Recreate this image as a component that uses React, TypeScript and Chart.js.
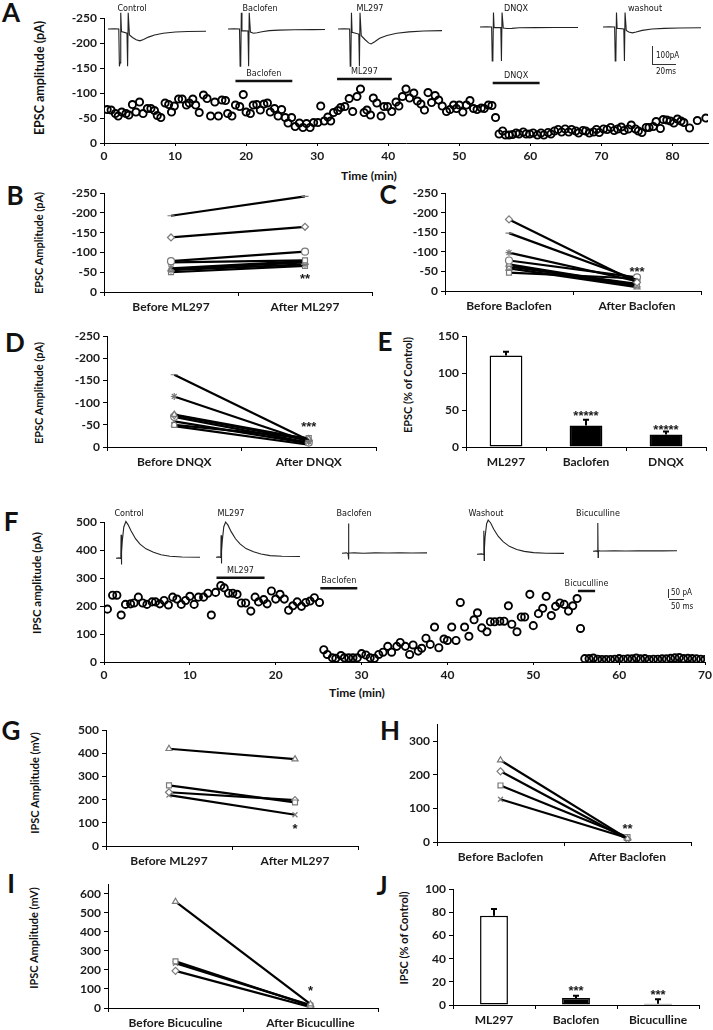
import React, { useEffect, useRef } from 'react';
import { Chart, registerables } from 'chart.js';

Chart.register(...registerables);

const FONT = "Lato, 'Open Sans', 'DejaVu Sans', sans-serif";
const NARROW = "'Liberation Sans Narrow', 'DejaVu Sans Condensed', Lato, sans-serif";
const STAR_FONT = "'Liberation Sans', Arial, sans-serif";
Chart.defaults.font.family = FONT;
Chart.defaults.color = '#1a1a1a';

// ---------------- Panel A: EPSC time course ----------------
const A_TIME = [
  0.45, 1.0, 1.6, 2.0, 2.5, 3.1, 3.5, 4.0, 4.5, 5.0,
  5.5, 6.1, 6.6, 7.1, 7.5, 8.0, 8.6, 9.1, 9.5, 9.9,
  10.5, 11.0, 11.6, 12.0, 12.5, 12.9, 13.4, 14.0, 14.5, 15.0,
  15.6, 16.1, 16.6, 17.1, 17.4, 18.0, 18.5, 19.1, 19.6, 20.0,
  20.6, 21.0, 21.5, 22.0, 22.5, 23.0, 23.4, 24.0, 24.5, 25.0,
  25.5, 25.9, 26.4, 26.9, 27.5, 28.0, 28.5, 29.0, 29.5, 30.1,
  30.5, 31.0, 31.5, 31.9, 32.3, 32.9, 33.3, 33.9, 34.5, 35.0,
  35.6, 36.1, 36.6, 37.0, 37.5, 37.9, 38.4, 39.0, 39.4, 39.9,
  40.5, 41.1, 41.5, 42.0, 42.5, 43.0, 43.6, 44.1, 44.6, 45.1,
  45.6, 46.1, 46.6, 47.1, 47.6, 48.2, 48.7, 49.2, 49.6, 50.0,
  50.5, 51.0, 51.5, 52.0, 52.5, 53.1, 53.5, 54.1, 54.6, 55.1,
  55.6, 56.1, 56.5, 57.0, 57.5, 58.0, 58.4, 59.0, 59.4, 59.9,
  60.4, 61.0, 61.5, 61.9, 62.5, 62.9, 63.4, 63.9, 64.4, 64.9,
  65.4, 65.8, 66.4, 66.8, 67.4, 67.8, 68.3, 68.9, 69.3, 69.7,
  70.3, 70.8, 71.3, 71.8, 72.3, 72.8, 73.2, 73.8, 74.2, 74.8,
  75.2, 75.7, 76.3, 76.7, 77.3, 77.7, 78.3, 78.7, 79.2, 79.7,
  80.2, 80.7, 81.2, 81.6, 82.4, 83.5, 84.7,
];
const A_EPSC = [
  -67, -66, -59, -54, -62, -59, -56, -77, -62, -82,
  -59, -69, -69, -65, -55, -51, -80, -77, -62, -74,
  -88, -88, -76, -80, -88, -76, -61, -96, -89, -54,
  -82, -54, -86, -85, -59, -54, -76, -73, -97, -62,
  -59, -76, -77, -66, -78, -80, -62, -69, -54, -67,
  -51, -40, -51, -33, -40, -31, -39, -31, -41, -41,
  -74, -44, -52, -44, -61, -65, -71, -73, -89, -63,
  -93, -108, -61, -66, -56, -90, -80, -54, -73, -73,
  -63, -82, -74, -93, -108, -90, -100, -84, -78, -66,
  -101, -81, -95, -86, -74, -63, -67, -76, -69, -76,
  -62, -76, -85, -69, -67, -70, -69, -76, -75, -51,
  -18, -24, -16, -16, -17, -20, -18, -22, -18, -18,
  -20, -16, -20, -16, -21, -18, -24, -27, -22, -28,
  -22, -27, -24, -20, -25, -24, -20, -22, -27, -21,
  -28, -27, -31, -25, -28, -32, -25, -28, -36, -28,
  -24, -21, -31, -31, -33, -43, -29, -47, -46, -44,
  -40, -48, -44, -41, -30, -45, -50,
];
const A_X_TICKS = [0, 10, 20, 30, 40, 50, 60, 70, 80];
const EPSC_Y_TICKS = [-250, -200, -150, -100, -50, 0];
const A_DRUG_NAMES = ['Baclofen', 'ML297', 'DNQX'];
const A_DRUG_START = [18.5, 32.8, 54.7];
const A_DRUG_END = [26.5, 40.5, 61.3];
const A_DRUG_LEVEL = [-124, -128, -120];

// EPSC example traces (ms, pA)
const TA_CTRL_T = [0, 5, 8.8, 9.3, 9.8, 10.4, 11, 15.5, 16, 16.5, 17.5, 20, 23, 26, 29, 33, 38, 45, 55, 65, 80];
const TA_CTRL_V = [0, 1, 0, -220, -200, 95, -15, -25, -220, 95, -35, -50, -63, -70, -62, -48, -35, -25, -18, -15, -13];
const TA_BAC_T = [0, 5, 9.5, 10, 10.5, 11, 11.5, 16.5, 17, 17.5, 18.5, 21, 24, 28, 34, 42, 55, 70, 80];
const TA_BAC_V = [0, 1, 0, -220, -200, 95, -10, -12, -220, 95, -18, -25, -22, -16, -10, -7, -5, -4, -3];
const TA_ML_T = [0, 5, 9.5, 10, 10.5, 11, 11.5, 17, 17.5, 18, 19, 22, 25, 27, 30, 34, 40, 48, 58, 70, 85];
const TA_ML_V = [0, 1, 0, -220, -200, 95, -20, -30, -220, 95, -40, -62, -82, -88, -75, -55, -38, -25, -17, -12, -10];
const TA_DNQX_T = [0, 5, 9.5, 10, 10.5, 11, 11.5, 17, 17.5, 18, 19, 22, 26, 32, 45, 60, 80];
const TA_DNQX_V = [0, 1, 0, -200, -190, 85, -3, -4, -200, 85, -6, -9, -8, -5, -4, -3, -3];
const TA_WASH_T = [0, 5, 9.5, 10, 10.5, 11, 11.5, 17, 17.5, 18, 19, 21, 24, 27, 32, 40, 50, 62, 80];
const TA_WASH_V = [0, 1, 0, -200, -190, 85, -8, -12, -200, 85, -20, -30, -35, -30, -20, -12, -8, -6, -5];

// ---------------- Panels B, C, D ----------------
const B_CATS = ['Before ML297', 'After ML297'];
const B_BEFORE = [-193, -138, -78, -75, -60, -58, -55, -50];
const B_AFTER = [-242, -165, -102, -80, -78, -75, -70, -66];
const B_SIG = '**';
const B_SIG_AT = -40;

const C_CATS = ['Before Baclofen', 'After Baclofen'];
const C_BEFORE = [-183, -148, -98, -78, -68, -65, -62, -58, -47];
const C_AFTER = [-22, -28, -25, -35, -15, -12, -18, -10, -32];
const C_SIG = '***';
const C_SIG_AT = -54;

const D_CATS = ['Before DNQX', 'After DNQX'];
const D_BEFORE = [-163, -114, -73, -72, -68, -58, -50, -47];
const D_AFTER = [-15, -12, -18, -15, -10, -8, -20, -5];
const D_SIG = '***';
const D_SIG_AT = -50;

// ---------------- Panel E ----------------
const E_CATS = ['ML297', 'Baclofen', 'DNQX'];
const E_MEAN = [124, 29, 17];
const E_SEM = [5, 8, 4];
const E_SIG = ['', '*****', '*****'];
const E_SIG_AT = [0, 45, 27];
const E_Y_TICKS = [0, 50, 100, 150];

// ---------------- Panel F: IPSC time course ----------------
const F_TIME = [
  0.4, 1.0, 1.5, 2.0, 2.5, 3.1, 3.5, 4.0, 4.5, 5.0,
  5.6, 6.0, 6.5, 7.0, 7.5, 8.0, 8.5, 9.0, 9.5, 10.0,
  10.5, 11.0, 11.6, 12.1, 12.5, 13.0, 13.6, 14.0, 14.5, 15.0,
  15.5, 16.0, 16.5, 17.1, 17.6, 18.0, 18.6, 19.0, 19.5, 20.0,
  20.5, 21.0, 21.5, 22.0, 22.5, 23.0, 23.5, 24.0, 24.5, 25.1,
  25.6, 26.0, 26.6, 27.0, 27.6, 28.0, 28.5, 29.0, 29.5, 30.0,
  30.5, 31.0, 31.5, 32.0, 32.5, 33.05, 33.5, 34.1, 34.5, 35.1,
  35.6, 36.0, 36.6, 37.0, 37.5, 38.0, 38.5, 39.0, 39.6, 40.0,
  40.5, 41.0, 41.5, 42.0, 42.5, 43.1, 43.5, 44.0, 44.6, 45.0,
  45.5, 46.1, 46.6, 47.1, 47.5, 48.1, 48.6, 49.0, 49.6, 50.0,
  50.6, 51.1, 51.5, 52.1, 52.6, 53.1, 53.6, 54.1, 54.6, 55.1,
  55.5, 56.0, 56.5, 57.0, 57.5, 58.0, 58.5, 59.0, 59.5, 60.0,
  60.5, 61.0, 61.5, 62.0, 62.5, 63.0, 63.5, 64.0, 64.5, 65.0,
  65.5, 66.0, 66.5, 67.0, 67.5, 68.0, 68.5, 69.0, 69.5, 70.0,
];
const F_IPSC = [
  189, 239, 239, 168, 206, 208, 211, 232, 211, 206,
  215, 215, 208, 220, 204, 232, 225, 206, 220, 235,
  206, 232, 232, 246, 168, 249, 273, 265, 246, 246,
  242, 211, 211, 182, 232, 215, 223, 208, 254, 225,
  242, 225, 185, 201, 215, 199, 213, 218, 230, 213,
  44, 27, 15, 13, 23, 15, 15, 15, 15, 30,
  25, 15, 13, 27, 35, 56, 35, 56, 70, 56,
  27, 61, 39, 49, 85, 63, 125, 51, 82, 77,
  125, 77, 213, 125, 92, 151, 176, 122, 108, 144,
  144, 146, 146, 201, 135, 108, 161, 161, 242, 130,
  173, 192, 235, 166, 199, 211, 206, 182, 201, 227,
  120, 12, 12, 14, 10, 9, 9, 9, 10, 12,
  10, 11, 11, 14, 11, 12, 9, 10, 10, 11,
  11, 13, 15, 16, 12, 13, 12, 11, 10, 9,
];
const F_X_TICKS = [0, 10, 20, 30, 40, 50, 60, 70];
const F_Y_TICKS = [0, 100, 200, 300, 400, 500];
const F_DRUG_NAMES = ['ML297', 'Baclofen', 'Bicuculline'];
const F_DRUG_START = [13.1, 25.2, 55.2];
const F_DRUG_END = [18.7, 29.5, 57.2];
const F_DRUG_LEVEL = [301, 264, 254];

// IPSC example traces (ms, pA)
const TF_CTRL_T = [0, 10, 16, 17, 18, 19, 21, 26, 33, 40, 50, 65, 80, 100, 125, 150, 180, 220, 280];
const TF_CTRL_V = [0, 2, -2, 150, -40, 40, 110, 200, 235, 215, 175, 125, 90, 60, 38, 22, 12, 8, 6];
const TF_ML_T = [0, 10, 16, 17, 18, 19, 21, 26, 32, 40, 50, 65, 80, 100, 125, 150, 180, 220, 280];
const TF_ML_V = [0, 2, -2, 140, -40, 40, 105, 195, 225, 205, 165, 118, 85, 55, 35, 20, 10, 6, 4];
const TF_BAC_T = [0, 15, 20, 21, 22, 23, 27, 40, 70, 110, 150, 190, 230, 280];
const TF_BAC_V = [0, 2, -3, 190, -40, 3, 1, 2, 0, 2, 1, 2, 1, 2];
const TF_WASH_T = [0, 15, 21, 22, 23, 24, 26, 31, 36, 44, 54, 68, 84, 104, 128, 152, 182, 222, 280];
const TF_WASH_V = [0, 2, -2, 150, -40, 40, 110, 195, 218, 200, 160, 115, 80, 50, 30, 18, 10, 6, 5];
const TF_BIC_T = [0, 12, 15, 16, 17, 18, 22, 40, 70, 110, 150, 190, 230, 280];
const TF_BIC_V = [0, 2, -3, 180, -40, 3, 2, 1, 2, 1, 2, 3, 2, 3];

// ---------------- Panels G, H, I ----------------
const G_CATS = ['Before ML297', 'After ML297'];
const G_BEFORE = [420, 262, 232, 220];
const G_AFTER = [375, 188, 198, 135];
const G_SIG = '*';
const G_SIG_AT = 86;
const G_Y_TICKS = [0, 100, 200, 300, 400, 500];

const H_CATS = ['Before Baclofen', 'After Baclofen'];
const H_BEFORE = [243, 210, 168, 127];
const H_AFTER = [10, 8, 15, 12];
const H_SIG = '**';
const H_SIG_AT = 47;
const H_Y_TICKS = [0, 100, 200, 300];

const I_CATS = ['Before Bicuculine', 'After Bicuculline'];
const I_BEFORE = [558, 245, 235, 195];
const I_AFTER = [20, 12, 15, 5];
const I_SIG = '*';
const I_SIG_AT = 105;
const I_Y_TICKS = [0, 100, 200, 300, 400, 500, 600];

// ---------------- Panel J ----------------
const J_CATS = ['ML297', 'Baclofen', 'Bicuculline'];
const J_MEAN = [77, 6, 1];
const J_SEM = [6, 2, 4];
const J_SIG = ['', '***', '***'];
const J_SIG_AT = [0, 14, 11];
const J_Y_TICKS = [0, 20, 40, 60, 80, 100];

// ---------------- styles ----------------
const B_STYLES = ['line', 'rectRot', 'circle', 'rect', 'crossRot', 'triangle', 'star', 'rect'];
const C_STYLES = ['rectRot', 'line', 'star', 'circle', 'triangle', 'crossRot', 'rect', 'triangle', 'rect'];
const D_STYLES = ['line', 'star', 'triangle', 'rectRot', 'circle', 'crossRot', 'rect', 'line'];
const G_STYLES = ['triangle', 'rect', 'rectRot', 'crossRot'];
const H_STYLES = ['triangle', 'rectRot', 'rect', 'crossRot'];
const I_STYLES = ['triangle', 'rect', 'crossRot', 'rectRot'];

const tickFont = { family: FONT, size: 12, weight: 'bold' as const };
const axisGrid = { display: true, drawOnChartArea: false, drawTicks: true, tickLength: 4, color: '#000', tickColor: '#000', lineWidth: 1 };
const axisBorder = { display: true, color: '#000', width: 1 };

function fixedTicks(values: number[]) {
  return (s: any) => {
    s.ticks = values.map((v) => ({ value: v }));
  };
}

function sigPlugin(idx: number[], at: number[], texts: string[]) {
  return {
    id: 'sig',
    afterDatasetsDraw(chart: any) {
      const { ctx } = chart;
      const x = chart.scales.x;
      const y = chart.scales.y;
      ctx.save();
      ctx.font = `bold 13px ${STAR_FONT}`;
      ctx.fillStyle = '#1a1a1a';
      ctx.textAlign = 'center';
      ctx.textBaseline = 'middle';
      idx.forEach((i, k) => {
        if (!texts[k]) return;
        ctx.fillText(texts[k], x.getPixelForValue(i), y.getPixelForValue(at[k]) + 3);
      });
      ctx.restore();
    },
  };
}

function errPlugin(mean: number[], sem: number[]) {
  return {
    id: 'err',
    afterDatasetsDraw(chart: any) {
      const { ctx } = chart;
      const y = chart.scales.y;
      const meta = chart.getDatasetMeta(0);
      ctx.save();
      ctx.strokeStyle = '#000';
      ctx.lineWidth = 2;
      meta.data.forEach((bar: any, i: number) => {
        const y0 = y.getPixelForValue(mean[i]);
        const y1 = y.getPixelForValue(mean[i] + sem[i]);
        ctx.beginPath();
        ctx.moveTo(bar.x, y0);
        ctx.lineTo(bar.x, y1);
        ctx.moveTo(bar.x - 3, y1);
        ctx.lineTo(bar.x + 3, y1);
        ctx.stroke();
      });
      ctx.restore();
    },
  };
}

function drugPlugin(names: string[], starts: number[], ends: number[], levels: number[], gap: number) {
  return {
    id: 'drugs',
    afterDatasetsDraw(chart: any) {
      const { ctx } = chart;
      const x = chart.scales.x;
      const y = chart.scales.y;
      ctx.save();
      ctx.font = `9px ${NARROW}`;
      ctx.fillStyle = '#222';
      ctx.textAlign = 'center';
      ctx.textBaseline = 'bottom';
      names.forEach((n, i) => {
        const cx = (x.getPixelForValue(starts[i]) + x.getPixelForValue(ends[i])) / 2;
        ctx.fillText(n, cx, y.getPixelForValue(levels[i]) - gap);
      });
      ctx.restore();
    },
  };
}

type Rect = { left: number; top: number; right: number; bottom: number };
const PAD = [56, 10, 10, 30];

function PlotCanvas({ plot, build }: { plot: Rect; build: () => any }) {
  const ref = useRef<HTMLCanvasElement | null>(null);
  const [pl, pt, pr, pb] = PAD;
  const w = plot.right - plot.left + pl + pr;
  const h = plot.bottom - plot.top + pt + pb;
  useEffect(() => {
    const cfg = build();
    const o = cfg.options;
    o.responsive = false;
    o.animation = false;
    o.devicePixelRatio = 1;
    o.layout = { padding: { left: 0, top: pt, right: pr, bottom: 0 } };
    o.scales.x.afterFit = (s: any) => { s.height = pb; };
    o.scales.y.afterFit = (s: any) => { s.width = pl; };
    o.plugins = { ...(o.plugins || {}), legend: { display: false }, tooltip: { enabled: false } };
    const c = new Chart(ref.current as HTMLCanvasElement, cfg);
    return () => c.destroy();
  }, []);
  return (
    <canvas
      ref={ref}
      width={w}
      height={h}
      style={{ position: 'absolute', left: plot.left - pl, top: plot.top - pt, width: w, height: h }}
    />
  );
}

function Trace({ left, top, width, height, t, v, tMax, yMin, yMax }: any) {
  const ref = useRef<HTMLCanvasElement | null>(null);
  useEffect(() => {
    const c = new Chart(ref.current as HTMLCanvasElement, {
      type: 'line',
      data: {
        datasets: [{
          data: t.map((x: number, i: number) => ({ x, y: v[i] })),
          borderColor: '#222',
          borderWidth: 1.1,
          pointRadius: 0,
          tension: 0,
        }],
      },
      options: {
        responsive: false,
        animation: false,
        devicePixelRatio: 1,
        layout: { padding: 0 },
        scales: {
          x: { type: 'linear', display: false, min: 0, max: tMax },
          y: { display: false, min: yMin, max: yMax },
        },
        plugins: { legend: { display: false }, tooltip: { enabled: false } },
      },
    } as any);
    return () => c.destroy();
  }, []);
  return (
    <canvas ref={ref} width={width} height={height}
      style={{ position: 'absolute', left, top, width, height }} />
  );
}

function Txt({ x, y, children, size = 12, bold = false, font = FONT, rot = false, align = 'center' }: any) {
  const tx = align === 'left' ? '0' : align === 'right' ? '-100%' : '-50%';
  return (
    <div style={{
      position: 'absolute', left: x, top: y,
      transform: `translate(${tx}, -50%)${rot ? ' rotate(-90deg)' : ''}`,
      fontFamily: font, fontSize: size, fontWeight: bold ? 700 : 400,
      lineHeight: 1, whiteSpace: 'nowrap', color: '#111',
    }}>{children}</div>
  );
}

function Line({ x1, y1, x2, y2 }: any) {
  return <div style={{ position: 'absolute', left: Math.min(x1, x2), top: Math.min(y1, y2), width: Math.max(1, Math.abs(x2 - x1)), height: Math.max(1, Math.abs(y2 - y1)), background: '#333' }} />;
}

function timeCourse(time: number[], vals: number[], xMax: number, xTicks: number[], yMin: number, yMax: number, yTicks: number[], reverse: boolean,
  names: string[], starts: number[], ends: number[], levels: number[], gap: number) {
  const drugSets = names.map((n, i) => ({
    type: 'line',
    data: [{ x: starts[i], y: levels[i] }, { x: ends[i], y: levels[i] }],
    showLine: true,
    borderColor: '#111',
    borderWidth: 2.5,
    pointRadius: 0,
  }));
  return {
    type: 'scatter',
    data: {
      datasets: [
        {
          data: time.map((t, i) => ({ x: t, y: vals[i] })),
          pointStyle: 'circle',
          pointRadius: 3.6,
          pointBorderWidth: 1.9,
          borderColor: '#000',
          backgroundColor: 'rgba(255,255,255,0)',
        },
        ...drugSets,
      ],
    },
    options: {
      scales: {
        x: {
          type: 'linear', min: 0, max: xMax,
          grid: { ...axisGrid, tickLength: 3 }, border: axisBorder,
          ticks: { font: tickFont, padding: 3, maxRotation: 0, minRotation: 0 },
          afterBuildTicks: fixedTicks(xTicks),
        },
        y: {
          type: 'linear', min: yMin, max: yMax, reverse,
          grid: axisGrid, border: axisBorder,
          ticks: { font: tickFont, padding: 3 },
          afterBuildTicks: fixedTicks(yTicks),
        },
      },
    },
    plugins: [drugPlugin(names, starts, ends, levels, gap)],
  };
}

function paired(cats: string[], before: number[], after: number[], styles: string[], yMin: number, yMax: number, yTicks: number[], reverse: boolean, sig: string, sigAt: number) {
  return {
    type: 'line',
    data: {
      labels: cats,
      datasets: before.map((b, i) => ({
        data: [b, after[i]],
        borderColor: '#000',
        borderWidth: 2.2,
        pointStyle: styles[i % styles.length],
        pointRadius: 3.5,
        pointBorderColor: '#7a7a7a',
        pointBackgroundColor: '#fff',
        pointBorderWidth: 1.2,
      })),
    },
    options: {
      scales: {
        x: {
          type: 'category', offset: true,
          grid: { ...axisGrid, offset: true }, border: axisBorder,
          ticks: { font: tickFont, padding: 4, maxRotation: 0, minRotation: 0, autoSkip: false },
        },
        y: {
          min: yMin, max: yMax, reverse,
          grid: axisGrid, border: axisBorder,
          ticks: { font: tickFont, padding: 3 },
          afterBuildTicks: fixedTicks(yTicks),
        },
      },
    },
    plugins: [sigPlugin([1], [sigAt], [sig])],
  };
}

function bars(cats: string[], mean: number[], sem: number[], yMax: number, yTicks: number[], barPct: number, sig: string[], sigAt: number[]) {
  return {
    type: 'bar',
    data: {
      labels: cats,
      datasets: [{
        data: mean,
        backgroundColor: mean.map((_, i) => (i === 0 ? '#fff' : '#000')),
        borderColor: '#000',
        borderWidth: 1.5,
        borderSkipped: false,
        barPercentage: barPct,
        categoryPercentage: 1,
      }],
    },
    options: {
      scales: {
        x: {
          type: 'category', offset: true,
          grid: { ...axisGrid, offset: true }, border: axisBorder,
          ticks: { font: tickFont, padding: 4, maxRotation: 0, minRotation: 0, autoSkip: false },
        },
        y: {
          min: 0, max: yMax,
          grid: axisGrid, border: axisBorder,
          ticks: { font: tickFont, padding: 3 },
          afterBuildTicks: fixedTicks(yTicks),
        },
      },
    },
    plugins: [errPlugin(mean, sem), sigPlugin(cats.map((_, i) => i), sigAt, sig)],
  };
}

const A_PLOT = { left: 104, top: 18, right: 708, bottom: 143 };
const B_PLOT = { left: 104, top: 193, right: 372, bottom: 292 };
const C_PLOT = { left: 445, top: 193, right: 701, bottom: 291 };
const D_PLOT = { left: 107, top: 336, right: 376, bottom: 447 };
const E_PLOT = { left: 466, top: 336, right: 706, bottom: 447 };
const F_PLOT = { left: 104, top: 522, right: 705, bottom: 662 };
const G_PLOT = { left: 106, top: 730, right: 358, bottom: 846 };
const H_PLOT = { left: 437, top: 724, right: 691, bottom: 842 };
const I_PLOT = { left: 108, top: 884, right: 378, bottom: 1008 };
const J_PLOT = { left: 453, top: 889, right: 699, bottom: 1005 };

export default function App() {
  useEffect(() => {
    document.body.style.margin = '0';
  }, []);
  return (
    <div style={{ position: 'absolute', left: 0, top: 0, width: 713, height: 1030, background: '#fff', overflow: 'hidden' }}>
      {/* Panel letters */}
      <Txt x={11} y={12} size={26} bold>A</Txt>
      <Txt x={15} y={195} size={26} bold>B</Txt>
      <Txt x={388} y={194} size={26} bold>C</Txt>
      <Txt x={15} y={342} size={26} bold>D</Txt>
      <Txt x={385} y={341} size={26} bold>E</Txt>
      <Txt x={11} y={521} size={26} bold>F</Txt>
      <Txt x={11} y={730} size={26} bold>G</Txt>
      <Txt x={390} y={730} size={26} bold>H</Txt>
      <Txt x={11} y={883} size={26} bold>I</Txt>
      <Txt x={382} y={885} size={26} bold>J</Txt>

      {/* Axis titles */}
      <Txt x={40} y={78} size={12.5} bold rot>EPSC amplitude  (pA)</Txt>
      <Txt x={369} y={176} size={12} bold>Time (min)</Txt>
      <Txt x={38} y={243} size={11} bold rot>EPSC Amplitude  (pA)</Txt>
      <Txt x={38} y={393} size={11} bold rot>EPSC Amplitude (pA)</Txt>
      <Txt x={407} y={385} size={11} bold rot>EPSC (% of Control)</Txt>
      <Txt x={37} y={583} size={11.5} bold rot>IPSC amplitude  (pA)</Txt>
      <Txt x={357} y={693} size={12} bold>Time (min)</Txt>
      <Txt x={34} y={783} size={11} bold rot>IPSC Amplitude  (mV)</Txt>
      <Txt x={33} y={938} size={11} bold rot>IPSC Amplitude  (mV)</Txt>
      <Txt x={403} y={938} size={11} bold rot>IPSC (% of Control)</Txt>

      {/* Panel A */}
      <PlotCanvas plot={A_PLOT} build={() => timeCourse(A_TIME, A_EPSC, 85, A_X_TICKS, -250, 0, EPSC_Y_TICKS, true, A_DRUG_NAMES, A_DRUG_START, A_DRUG_END, A_DRUG_LEVEL, 3)} />
      <Trace left={108} top={12} width={98} height={56} t={TA_CTRL_T} v={TA_CTRL_V} tMax={80} yMin={-230} yMax={100} />
      <Trace left={228} top={12} width={97} height={56} t={TA_BAC_T} v={TA_BAC_V} tMax={80} yMin={-230} yMax={100} />
      <Trace left={338} top={12} width={104} height={56} t={TA_ML_T} v={TA_ML_V} tMax={85} yMin={-230} yMax={100} />
      <Trace left={480} top={10} width={98} height={56} t={TA_DNQX_T} v={TA_DNQX_V} tMax={80} yMin={-230} yMax={100} />
      <Trace left={603} top={10} width={98} height={56} t={TA_WASH_T} v={TA_WASH_V} tMax={80} yMin={-230} yMax={100} />
      <Txt x={132} y={8} size={9} font={NARROW}>Control</Txt>
      <Txt x={260} y={8} size={9} font={NARROW}>Baclofen</Txt>
      <Txt x={370} y={8} size={9} font={NARROW}>ML297</Txt>
      <Txt x={516} y={8} size={9} font={NARROW}>DNQX</Txt>
      <Txt x={645} y={8} size={9} font={NARROW}>washout</Txt>
      <Line x1={652} y1={46} x2={653} y2={64} />
      <Line x1={652} y1={64} x2={676} y2={65} />
      <Txt x={656} y={56} size={8} font={NARROW} align="left">100pA</Txt>
      <Txt x={656} y={72} size={8} font={NARROW} align="left">20ms</Txt>

      {/* Panels B-E */}
      <PlotCanvas plot={B_PLOT} build={() => paired(B_CATS, B_BEFORE, B_AFTER, B_STYLES, -250, 0, EPSC_Y_TICKS, true, B_SIG, B_SIG_AT)} />
      <PlotCanvas plot={C_PLOT} build={() => paired(C_CATS, C_BEFORE, C_AFTER, C_STYLES, -250, 0, EPSC_Y_TICKS, true, C_SIG, C_SIG_AT)} />
      <PlotCanvas plot={D_PLOT} build={() => paired(D_CATS, D_BEFORE, D_AFTER, D_STYLES, -250, 0, EPSC_Y_TICKS, true, D_SIG, D_SIG_AT)} />
      <PlotCanvas plot={E_PLOT} build={() => bars(E_CATS, E_MEAN, E_SEM, 150, E_Y_TICKS, 0.41, E_SIG, E_SIG_AT)} />

      {/* Panel F */}
      <PlotCanvas plot={F_PLOT} build={() => timeCourse(F_TIME, F_IPSC, 70, F_X_TICKS, 0, 500, F_Y_TICKS, false, F_DRUG_NAMES, F_DRUG_START, F_DRUG_END, F_DRUG_LEVEL, 3)} />
      <Trace left={116} top={516} width={84} height={50} t={TF_CTRL_T} v={TF_CTRL_V} tMax={280} yMin={-50} yMax={270} />
      <Trace left={216} top={515} width={84} height={50} t={TF_ML_T} v={TF_ML_V} tMax={280} yMin={-50} yMax={270} />
      <Trace left={342} top={511} width={85} height={50} t={TF_BAC_T} v={TF_BAC_V} tMax={280} yMin={-50} yMax={270} />
      <Trace left={477} top={512} width={87} height={50} t={TF_WASH_T} v={TF_WASH_V} tMax={280} yMin={-50} yMax={270} />
      <Trace left={593} top={509} width={84} height={50} t={TF_BIC_T} v={TF_BIC_V} tMax={280} yMin={-50} yMax={270} />
      <Txt x={129} y={513} size={9} font={NARROW}>Control</Txt>
      <Txt x={231} y={513} size={9} font={NARROW}>ML297</Txt>
      <Txt x={354} y={513} size={9} font={NARROW}>Baclofen</Txt>
      <Txt x={486} y={513} size={9} font={NARROW}>Washout</Txt>
      <Txt x={598} y={513} size={9} font={NARROW}>Bicuculline</Txt>
      <Line x1={668} y1={589} x2={669} y2={598} />
      <Line x1={669} y1={599} x2={684} y2={600} />
      <Txt x={671} y={593} size={8} font={NARROW} align="left">50 pA</Txt>
      <Txt x={671} y={607} size={8} font={NARROW} align="left">50 ms</Txt>

      {/* Panels G-J */}
      <PlotCanvas plot={G_PLOT} build={() => paired(G_CATS, G_BEFORE, G_AFTER, G_STYLES, 0, 500, G_Y_TICKS, false, G_SIG, G_SIG_AT)} />
      <PlotCanvas plot={H_PLOT} build={() => paired(H_CATS, H_BEFORE, H_AFTER, H_STYLES, 0, 350, H_Y_TICKS, false, H_SIG, H_SIG_AT)} />
      <PlotCanvas plot={I_PLOT} build={() => paired(I_CATS, I_BEFORE, I_AFTER, I_STYLES, 0, 650, I_Y_TICKS, false, I_SIG, I_SIG_AT)} />
      <PlotCanvas plot={J_PLOT} build={() => bars(J_CATS, J_MEAN, J_SEM, 100, J_Y_TICKS, 0.34, J_SIG, J_SIG_AT)} />
    </div>
  );
}
